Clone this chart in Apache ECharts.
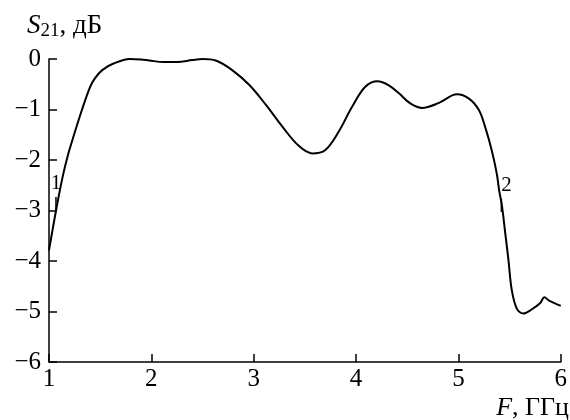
<!DOCTYPE html>
<html>
<head>
<meta charset="utf-8">
<script src="https://cdn.jsdelivr.net/npm/echarts@6/dist/echarts.min.js"></script>
<style>html,body{margin:0;padding:0;background:#fff}#c{width:570px;height:420px}</style>
</head>
<body>
<div id="c"></div>
<script>
// Frequency, GHz
var freq = [1.0, 1.075, 1.139, 1.188, 1.237, 1.318, 1.40, 1.45, 1.52, 1.63, 1.79, 1.9, 1.98, 2.12, 2.25, 2.4, 2.5, 2.63, 2.79, 2.96, 3.12, 3.28, 3.44, 3.57, 3.70, 3.83, 3.96, 4.09, 4.21, 4.32, 4.42, 4.53, 4.645, 4.81, 4.985, 5.1, 5.2, 5.262, 5.326, 5.375, 5.398, 5.425, 5.46, 5.489, 5.521, 5.57, 5.635, 5.715, 5.80, 5.84, 5.89, 5.99, 6.0];
// S21, dB
var s21 = [-3.79, -2.93, -2.28, -1.88, -1.55, -1.03, -0.56, -0.38, -0.22, -0.09, 0.0, -0.01, -0.03, -0.06, -0.06, -0.02, 0.0, -0.03, -0.22, -0.52, -0.91, -1.34, -1.72, -1.87, -1.80, -1.44, -0.95, -0.55, -0.44, -0.52, -0.68, -0.88, -0.97, -0.87, -0.70, -0.78, -1.01, -1.35, -1.81, -2.27, -2.60, -2.90, -3.49, -3.98, -4.57, -4.94, -5.04, -4.96, -4.83, -4.72, -4.79, -4.88, -4.89];
// marker ticks on curve
var markerX = [1.068, 5.42];
var markerY = [-2.86, -2.9];
var markerLabels = ['1', '2'];
var xTicks = [1, 2, 3, 4, 5, 6];
var yTicks = [-6, -5, -4, -3, -2, -1, 0];

var FONT = '"Liberation Serif", "Times New Roman", Times, serif';
var chart = echarts.init(document.getElementById('c'));
var lineData = freq.map(function (f, i) { return [f, s21[i]]; });
var labelShift = [0, 5];
var markData = markerX.map(function (x, i) {
  return { value: [x, markerY[i]], name: markerLabels[i], label: { offset: [labelShift[i], 0] } };
});

chart.setOption({
  animation: false,
  backgroundColor: '#fff',
  grid: { left: 49, right: 8, top: 59, bottom: 58, containLabel: false },
  title: [
    {
      left: 27, top: 10, padding: 0,
      text: '{s|S}{sub|21}{n|, дБ}',
      textStyle: {
        fontWeight: 'normal',
        rich: {
          s: { fontFamily: FONT, fontStyle: 'italic', fontWeight: 'normal', fontSize: 27, color: '#000' },
          sub: { fontFamily: FONT, fontWeight: 'normal', fontSize: 19, color: '#000', padding: [12, 0, 0, 0] },
          n: { fontFamily: FONT, fontWeight: 'normal', fontSize: 27, color: '#000' }
        }
      }
    },
    {
      right: 1, bottom: -1, padding: 0,
      text: '{i|F}{n|, ГГц}',
      textStyle: {
        fontWeight: 'normal',
        rich: {
          i: { fontFamily: FONT, fontStyle: 'italic', fontWeight: 'normal', fontSize: 26, color: '#000' },
          n: { fontFamily: FONT, fontWeight: 'normal', fontSize: 26, color: '#000' }
        }
      }
    }
  ],
  xAxis: {
    type: 'value', min: xTicks[0], max: xTicks[xTicks.length - 1], interval: 1,
    axisLine: { show: true, onZero: false, lineStyle: { color: '#000', width: 1.5 } },
    axisTick: { show: true, inside: true, length: 8, lineStyle: { color: '#000', width: 1.5 } },
    axisLabel: { color: '#000', fontFamily: FONT, fontSize: 25, margin: 5 },
    splitLine: { show: false }
  },
  yAxis: {
    type: 'value', min: yTicks[0], max: yTicks[yTicks.length - 1], interval: 1,
    axisLine: { show: true, onZero: false, lineStyle: { color: '#000', width: 1.5 } },
    axisTick: { show: true, inside: true, length: 8, lineStyle: { color: '#000', width: 1.5 } },
    axisLabel: {
      color: '#000', fontFamily: FONT, fontSize: 25, margin: 8,
      formatter: function (v) { return v < 0 ? '\u2212' + Math.abs(v) : String(v); }
    },
    splitLine: { show: false }
  },
  series: [
    {
      type: 'line', data: lineData, smooth: 0.35,
      showSymbol: false, symbol: 'none',
      lineStyle: { color: '#000', width: 2 }
    },
    {
      type: 'scatter', data: markData, symbol: 'rect', symbolSize: [1.5, 13],
      itemStyle: { color: '#000', opacity: 1 },
      label: {
        show: true, position: 'top', distance: 3, formatter: '{b}',
        color: '#000', opacity: 1, fontFamily: FONT, fontSize: 21
      },
      z: 5
    }
  ]
});
</script>
</body>
</html>
